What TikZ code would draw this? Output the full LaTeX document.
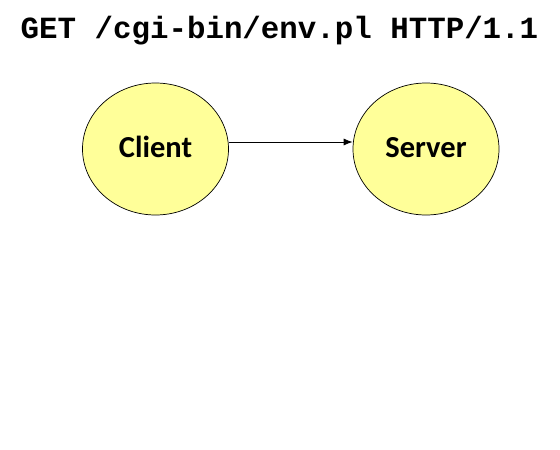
\documentclass[tikz,border=0pt]{standalone}
\usepackage{fontspec}
\setmainfont{Carlito}
\newfontfamily\codefont{Liberation Mono}
\usetikzlibrary{arrows.meta,shapes.geometric}
\definecolor{nodefill}{RGB}{255,255,153}
\begin{document}
\begin{tikzpicture}[x=1pt,y=-1pt,
  peer/.style={ellipse,draw=black,line width=0.7pt,fill=nodefill,minimum width=146pt,minimum height=132pt,inner sep=0pt},
  peerlabel/.style={anchor=base,inner sep=0pt,font=\fontsize{30.5}{33}\selectfont\bfseries},
  link/.style={-{Latex[length=9pt,width=7pt]},line width=0.8pt}]
\useasboundingbox (0,0) rectangle (560,450);
\node[font=\codefont\fontsize{30.8}{34}\selectfont\bfseries,anchor=base] (title) at (279.5,38) {GET /cgi-bin/env.pl HTTP/1.1};
\node[peer] (client) at (155.5,149) {};
\node[peerlabel] (clientlabel) at (155.5,157) {Client};
\node[peer] (server) at (426,149) {};
\node[peerlabel] (serverlabel) at (426,157) {Server};
\draw[link] ([yshift=7pt]client.east) -- ([yshift=7pt]server.west);
\end{tikzpicture}
\end{document}
